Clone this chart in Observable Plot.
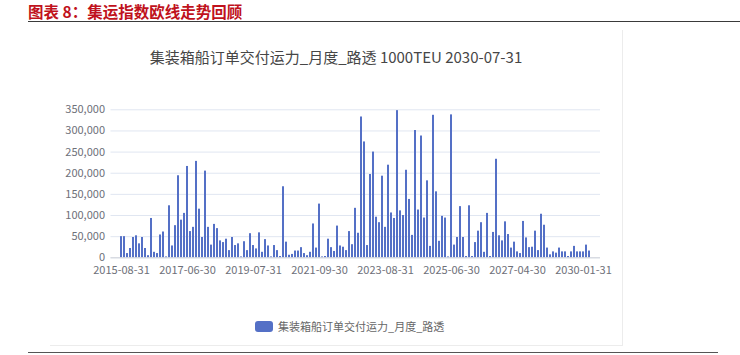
<!DOCTYPE html>
<html>
<head>
<meta charset="utf-8">
<script src="https://cdn.jsdelivr.net/npm/d3@7"></script>
<script src="https://cdn.jsdelivr.net/npm/@observablehq/plot@0.6"></script>
<style>
  html, body { margin: 0; padding: 0; background: #fff; }
  #wrap { position: relative; width: 740px; height: 355px; overflow: hidden; font-family: "Noto Sans CJK SC", "Noto Sans", sans-serif; }
  #hdr { position: absolute; left: 28px; top: 0px; font-size: 15.5px; font-weight: bold; color: #c0121c; line-height: 22px; }
  #hdrline { position: absolute; left: 28px; top: 21px; width: 712px; height: 0; border-top: 1.5px solid #3a3a3a; }
  #vline { position: absolute; left: 622px; top: 30px; width: 0; height: 316px; border-left: 1px solid #ececec; }
  #pline { position: absolute; left: 50px; top: 345px; width: 572px; height: 0; border-top: 1px solid #ececec; }
  #botline { position: absolute; left: 28px; top: 352px; width: 690px; height: 0; border-top: 1px solid #555; }
  #title { position: absolute; left: 0; width: 672px; top: 47px; text-align: center; font-size: 15px; color: #464646; line-height: 20px; }
  #chart { position: absolute; left: 0; top: 100px; }
  #legend { position: absolute; left: 255px; top: 318px; display: flex; align-items: center; font-size: 11px; color: #666; }
  #legend .sw { width: 18px; height: 11px; background: #5470c6; border-radius: 3px; margin-right: 5px; }
</style>
</head>
<body>
<div id="wrap">
  <div id="hdr">图表 8：集运指数欧线走势回顾</div>
  <div id="hdrline"></div>
  <div id="vline"></div>
  <div id="pline"></div>
  <div id="botline"></div>
  <div id="title">集装箱船订单交付运力_月度_路透 1000TEU 2030-07-31</div>
  <div id="chart"></div>
  <div id="legend"><div class="sw"></div><span>集装箱船订单交付运力_月度_路透</span></div>
</div>
<script>
const seriesName = "集装箱船订单交付运力_月度_路透";
const values = [
  50000, 50000, 10000, 22000, 48000, 52000, 33000, 48000, 22000, 5000,
  93000, 13000, 10000, 54000, 61000, 2000, 123000, 28000, 76000, 194000,
  89000, 105000, 216000, 62000, 72000, 228000, 115000, 48000, 205000, 72000,
  30000, 79000, 69000, 40000, 36000, 44000, 17000, 48000, 29000, 33000,
  2000, 38000, 17000, 57000, 29000, 21000, 59000, 13000, 43000, 28000,
  2000, 29000, 17000, 3000, 168000, 37000, 6000, 8000, 16000, 16000,
  24000, 10000, 5000, 13000, 80000, 23000, 127000, 2000, 3000, 44000,
  24000, 15000, 75000, 28000, 25000, 17000, 62000, 31000, 117000, 58000,
  333000, 274000, 29000, 197000, 250000, 96000, 83000, 193000, 72000, 219000,
  106000, 93000, 348000, 111000, 100000, 207000, 138000, 53000, 301000, 113000,
  288000, 94000, 182000, 27000, 337000, 156000, 39000, 98000, 94000, 2000,
  338000, 30000, 48000, 121000, 48000, 3000, 123000, 3000, 36000, 63000,
  83000, 13000, 105000, 3000, 60000, 233000, 52000, 40000, 85000, 55000,
  23000, 37000, 14000, 10000, 86000, 47000, 24000, 25000, 63000, 17000,
  103000, 77000, 23000, 7000, 14000, 11000, 23000, 14000, 14000, 3000,
  14000, 27000, 14000, 14000, 14000, 30000, 16000
];
const tickIndex = [0, 22, 44, 66, 88, 110, 132, 154];
const tickLabels = ["2015-08-31", "2017-06-30", "2019-07-31", "2021-09-30", "2023-08-31", "2025-06-30", "2027-04-30", "2030-01-31"];
const yTicks = [0, 50000, 100000, 150000, 200000, 250000, 300000, 350000];

const data = values.map((v, i) => ({i, v}));
const labelOf = new Map(tickIndex.map((t, k) => [t, tickLabels[k]]));

const chart = Plot.plot({
  width: 740,
  height: 180,
  marginLeft: 110.5,
  marginRight: 140,
  marginTop: 9.3,
  marginBottom: 22.7,
  style: { fontFamily: '"Noto Sans CJK SC", "Noto Sans", sans-serif', fontSize: "11px", color: "#6e7079", background: "transparent" },
  x: { type: "band", domain: d3.range(values.length), padding: 0.33, label: null },
  y: { domain: [0, 350000], label: null },
  marks: [
    Plot.ruleY(yTicks, { stroke: "#e0e6f1", strokeWidth: 1 }),
    Plot.barY(data, { x: "i", y: "v", fill: "#5470c6" }),
    Plot.ruleY([0], { stroke: "#d0d3da" }),
    Plot.axisY({ ticks: yTicks, tickFormat: d3.format(","), tickSize: 0, tickPadding: 6, fill: "#6e7079", label: null }),
    Plot.axisX({ ticks: tickIndex, tickFormat: d => labelOf.get(d), tickSize: 0, tickPadding: 8, fill: "#6e7079", label: null })
  ]
});
document.getElementById("chart").appendChild(chart);
</script>
</body>
</html>
